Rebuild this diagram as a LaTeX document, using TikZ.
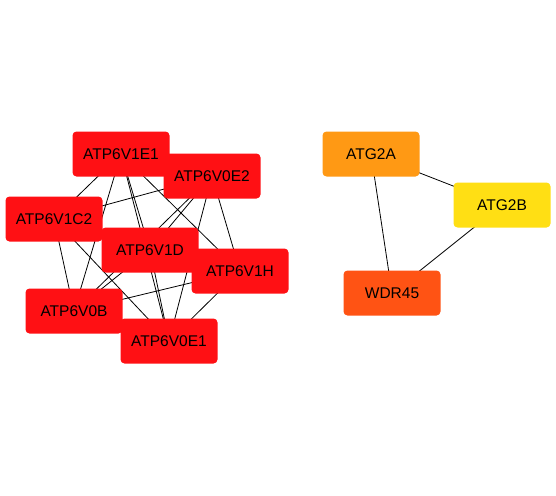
\documentclass[tikz,border=0pt]{standalone}
\usepackage{fontspec}
\setmainfont{Liberation Sans}
\definecolor{nred}{HTML}{FF1014}
\definecolor{norange}{HTML}{FF9914}
\definecolor{nyellow}{HTML}{FFDF14}
\definecolor{nwdr}{HTML}{FF5314}
\begin{document}
\begin{tikzpicture}[x=1pt,y=-1pt,
  gene/.style={rectangle,rounded corners=4pt,minimum width=97pt,minimum height=45pt,inner sep=0pt,font=\fontsize{15.5}{17}\selectfont,text=black},
  edge/.style={draw=black,line width=0.8pt}]
\useasboundingbox (0,0) rectangle (556,495);
\fill[white] (0,0) rectangle (556,495);
\coordinate (E1) at (121,154);
\coordinate (E2) at (212,176);
\coordinate (C2) at (54,219);
\coordinate (D) at (150,250);
\coordinate (H) at (240,271);
\coordinate (B) at (74,311);
\coordinate (OE1) at (169,341);
\coordinate (GA) at (371,154);
\coordinate (GB) at (502,205);
\coordinate (W) at (392,293);
\foreach \a/\b in {E1/E2,E1/C2,E1/D,E1/H,E1/B,E1/OE1,E2/C2,E2/D,E2/H,E2/B,E2/OE1,C2/D,C2/H,C2/B,C2/OE1,D/H,D/B,D/OE1,H/B,H/OE1,B/OE1,GA/GB,GA/W,GB/W}
  \draw[edge] (\a) -- (\b);
\node[gene,fill=nred] (nE1) at (E1) {ATP6V1E1};
\node[gene,fill=nred] (nE2) at (E2) {ATP6V0E2};
\node[gene,fill=nred] (nC2) at (C2) {ATP6V1C2};
\node[gene,fill=nred] (nD) at (D) {ATP6V1D};
\node[gene,fill=nred] (nH) at (H) {ATP6V1H};
\node[gene,fill=nred] (nB) at (B) {ATP6V0B};
\node[gene,fill=nred] (nOE1) at (OE1) {ATP6V0E1};
\node[gene,fill=norange] (nGA) at (GA) {ATG2A};
\node[gene,fill=nyellow] (nGB) at (GB) {ATG2B};
\node[gene,fill=nwdr] (nW) at (W) {WDR45};
\end{tikzpicture}
\end{document}
